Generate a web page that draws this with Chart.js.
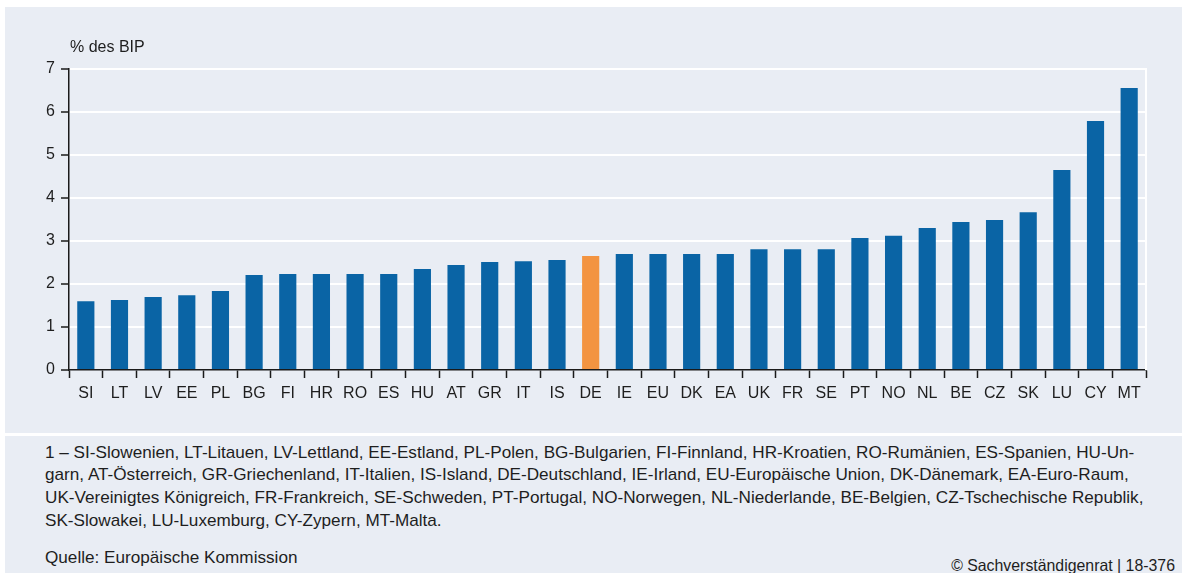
<!DOCTYPE html>
<html lang="de">
<head>
<meta charset="utf-8">
<title>Staatliche Ausgaben in % des BIP</title>
<script src="https://cdn.jsdelivr.net/npm/chart.js@4.4.1/dist/chart.umd.min.js"></script>
<style>
  html, body { margin: 0; padding: 0; background: #ffffff; }
  body { width: 1182px; height: 573px; position: relative; overflow: hidden;
         font-family: "Liberation Sans", Arial, sans-serif; color: #1e1e1e; }
  .panel { position: absolute; background: #e9edf4; }
  #chartPanel { left: 5px; top: 7px; width: 1177px; height: 426px; }
  #notePanel { left: 5px; top: 436px; width: 1177px; height: 137px; }
  #chartBox { position: absolute; left: 0; top: 0; width: 1182px; height: 433px; }
  #unit { position: absolute; left: 70px; top: 37px; font-size: 16px; line-height: 20px; }
  .note { position: absolute; left: 45px; font-family: "Liberation Sans", Arial, sans-serif;
          font-size: 15.5px; line-height: 20px; white-space: nowrap; color: #1e1e1e; }
  #copy { position: absolute; right: 7px; top: 558px; font-family: "Liberation Sans", Arial, sans-serif;
          font-size: 13px; line-height: 16px; white-space: nowrap; color: #1e1e1e; }
</style>
</head>
<body>
<div class="panel" id="chartPanel"></div>
<div class="panel" id="notePanel"></div>
<div id="chartBox"><canvas id="chart" width="1182" height="433"></canvas></div>
<div id="unit">% des BIP</div>
<div class="note" id="noteFirst" style="top:442px">1 – SI-Slowenien, LT-Litauen, LV-Lettland, EE-Estland, PL-Polen, BG-Bulgarien, FI-Finnland, HR-Kroatien, RO-Rumänien, ES-Spanien, HU-Un-</div>
<div class="note" style="top:464px">garn, AT-Österreich, GR-Griechenland, IT-Italien, IS-Island, DE-Deutschland, IE-Irland, EU-Europäische Union, DK-Dänemark, EA-Euro-Raum,</div>
<div class="note" style="top:487px">UK-Vereinigtes Königreich, FR-Frankreich, SE-Schweden, PT-Portugal, NO-Norwegen, NL-Niederlande, BE-Belgien, CZ-Tschechische Republik,</div>
<div class="note" style="top:510px">SK-Slowakei, LU-Luxemburg, CY-Zypern, MT-Malta.</div>
<div class="note" style="top:547px">Quelle: Europäische Kommission</div>
<div id="copy">© Sachverständigenrat | 18-376</div>

<script>
// Country codes, sorted by value
const categories = ['SI', 'LT', 'LV', 'EE', 'PL', 'BG', 'FI', 'HR', 'RO', 'ES', 'HU', 'AT', 'GR', 'IT', 'IS', 'DE',
                    'IE', 'EU', 'DK', 'EA', 'UK', 'FR', 'SE', 'PT', 'NO', 'NL', 'BE', 'CZ', 'SK', 'LU', 'CY', 'MT'];

// Share of GDP, in percent
const values = [1.60, 1.63, 1.70, 1.74, 1.84, 2.21, 2.23, 2.23, 2.23, 2.23, 2.35, 2.44, 2.51, 2.53, 2.56, 2.65,
                2.70, 2.70, 2.70, 2.70, 2.81, 2.81, 2.81, 3.07, 3.12, 3.30, 3.44, 3.49, 3.67, 4.65, 5.79, 6.56];

// Y axis range and steps
const yTicks = [0, 1, 2, 3, 4, 5, 6, 7];

// Country shown in the accent colour
const highlighted = 'DE';

const BLUE = '#0a64a5';
const ORANGE = '#f39441';
const AXIS = '#1a1a1a';

// Size footnote text so the first line fills the footnote width
function fitSize(el, targetWidth, group) {
  const w = el.getBoundingClientRect().width;
  const size = parseFloat(getComputedStyle(el).fontSize) * targetWidth / w;
  group.forEach(e => { e.style.fontSize = size.toFixed(2) + 'px'; });
}
fitSize(document.getElementById('noteFirst'), 1090, Array.from(document.querySelectorAll('.note')));
fitSize(document.getElementById('copy'), 224, [document.getElementById('copy')]);

// White frame line on the right edge of the plot area
const rightFrame = {
  id: 'rightFrame',
  beforeDatasetsDraw(chart) {
    const { ctx, chartArea } = chart;
    ctx.save();
    ctx.strokeStyle = '#ffffff';
    ctx.lineWidth = 2;
    ctx.beginPath();
    ctx.moveTo(chartArea.right, chartArea.top - 1);
    ctx.lineTo(chartArea.right, chartArea.bottom);
    ctx.stroke();
    ctx.restore();
  }
};

Chart.defaults.font.family = '"Liberation Sans", Arial, sans-serif';
Chart.defaults.color = '#1e1e1e';

new Chart(document.getElementById('chart'), {
  type: 'bar',
  data: {
    labels: categories,
    datasets: [{
      data: values,
      backgroundColor: categories.map(c => c === highlighted ? ORANGE : BLUE),
      borderWidth: 0,
      categoryPercentage: 1.0,
      barPercentage: 0.51
    }]
  },
  plugins: [rightFrame],
  options: {
    responsive: false,
    animation: false,
    devicePixelRatio: 1,
    layout: { padding: { top: 69, right: 36, bottom: 0, left: 0 } },
    plugins: {
      legend: { display: false },
      tooltip: { enabled: false }
    },
    scales: {
      x: {
        offset: true,
        grid: {
          offset: true,
          drawOnChartArea: false,
          drawTicks: true,
          tickLength: 8,
          tickColor: AXIS,
          tickWidth: 1.5
        },
        border: { color: AXIS, width: 1.5 },
        ticks: {
          padding: 6,
          autoSkip: false,
          maxRotation: 0,
          font: { size: 16 },
          color: '#1e1e1e'
        },
        afterFit(scale) { scale.height = 63; }
      },
      y: {
        min: yTicks[0],
        max: yTicks[yTicks.length - 1],
        afterBuildTicks(scale) { scale.ticks = yTicks.map(v => ({ value: v })); },
        grid: {
          color: ctx => (ctx.tick && ctx.tick.value === 0) ? 'rgba(0,0,0,0)' : '#ffffff',
          lineWidth: 2,
          drawTicks: true,
          tickLength: 8,
          tickColor: AXIS,
          tickWidth: 1.5
        },
        border: { color: AXIS, width: 1.5 },
        ticks: {
          padding: 6,
          font: { size: 16 },
          color: '#1e1e1e'
        },
        afterFit(scale) { scale.width = 69; }
      }
    }
  }
});
</script>
</body>
</html>
